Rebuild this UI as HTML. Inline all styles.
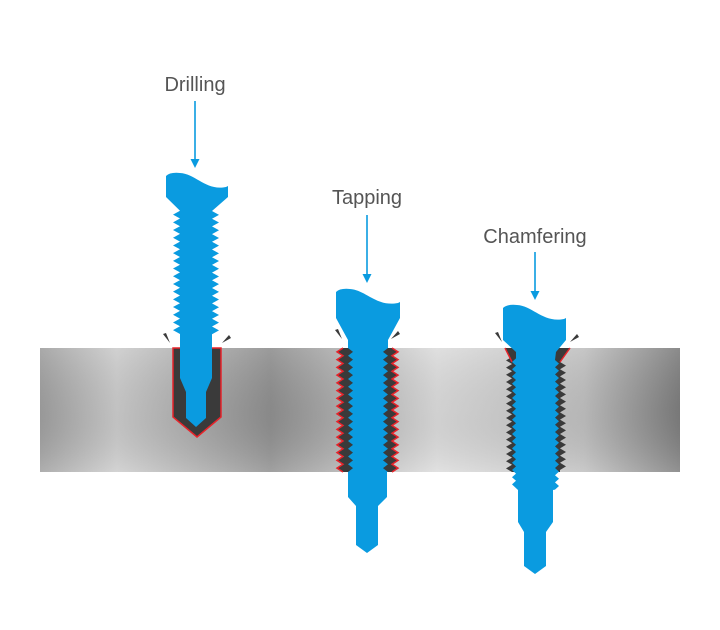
<!DOCTYPE html>
<html><head><meta charset="utf-8"><style>
html,body{margin:0;padding:0;background:#fff;width:720px;height:630px;overflow:hidden}
svg{display:block}
text{font-family:"Liberation Sans",sans-serif;font-size:20px;fill:#555}
</style></head><body>
<svg id="s" width="720" height="630" viewBox="0 0 720 630" xmlns="http://www.w3.org/2000/svg">
<defs>
<linearGradient id="pl" x1="0" x2="1" y1="0" y2="0">
<stop offset="0" stop-color="#a0a0a0"/>
<stop offset="0.12" stop-color="#cccccc"/>
<stop offset="0.36" stop-color="#909090"/>
<stop offset="0.62" stop-color="#dcdcdc"/>
<stop offset="0.85" stop-color="#c0c0c0"/>
<stop offset="1" stop-color="#7e7e7e"/>
</linearGradient>
<linearGradient id="pv" x1="0" x2="0" y1="0" y2="1">
<stop offset="0" stop-color="#fff" stop-opacity="0.1"/>
<stop offset="0.5" stop-color="#000" stop-opacity="0.05"/>
<stop offset="1" stop-color="#fff" stop-opacity="0.15"/>
</linearGradient>
</defs>
<rect x="40" y="348" width="640" height="124" fill="url(#pl)"/>
<rect x="40" y="348" width="640" height="124" fill="url(#pv)"/>
<g id="g"></g>
<text x="195" y="91" text-anchor="middle">Drilling</text>
<text x="367" y="204" text-anchor="middle">Tapping</text>
<text x="535" y="243" text-anchor="middle">Chamfering</text>
</svg>
<script>
var g=document.getElementById('g'),B='#0a9be0',D='#3a3a3a',R='#e8232a';
function P(d,f,st){var p=document.createElementNS('http://www.w3.org/2000/svg','path');p.setAttribute('d',d);p.setAttribute('fill',f||'none');if(st){p.setAttribute('stroke',st[0]);p.setAttribute('stroke-width',st[1]);}g.appendChild(p);}
function zig(x,y0,y1,dx,pitch){var s='';for(var y=y0;y<y1-0.1;y+=pitch){s+=' L'+(x+dx)+' '+(y+pitch/2)+' L'+x+' '+(y+pitch);}return s;}
function zigUp(x,y1,y0,dx,pitch){var s='';for(var y=y1;y>y0+0.1;y-=pitch){s+=' L'+(x+dx)+' '+(y-pitch/2)+' L'+x+' '+(y-pitch);}return s;}
function head(l,r,t,b){return 'M'+l+' '+(t+2)+' Q'+(l+4)+' '+(t-2)+' '+(l+14)+' '+(t-1)+' C'+(l+30)+' '+t+' '+(l+40)+' '+(t+17)+' '+(r-2)+' '+(t+13)+' L'+r+' '+(t+12)+' L'+r+' '+b+' ';}
function arrow(x,y0,y1){P('M'+x+' '+y0+' L'+x+' '+(y1-8),null,['#0a9be0',1.6]);P('M'+(x-4.5)+' '+(y1-9)+' L'+(x+4.5)+' '+(y1-9)+' L'+x+' '+y1+'Z',B);}
function chips(a,b,y){P('M'+(a-7)+' '+(y-9)+' L'+(a-4)+' '+(y-10)+' L'+(a)+' '+y+'Z',D);P('M'+(b+7)+' '+(y-8)+' L'+(b+9)+' '+(y-5)+' L'+b+' '+y+'Z',D);}
arrow(195,101,168);arrow(367,215,283);arrow(535,252,300);
// Screw 1 drilling
P('M173 348 L221 348 L221 417 L197 437 L173 417Z',D,[R,1.5]);
P(head(166,228,174,197)+'L212 211'+zig(212,211,334,7,7.7)+' L212 340 L212 378 L206 392 L206 418 L196 427 L186 418 L186 392 L180 378 L180 340 L180 334'+zigUp(180,334,211,-7,7.7)+' L166 197Z',B);
chips(170,222,343);
// Screw 2 tapping
P('M343 348'+zig(343,348,472,-6,7.75)+' L392 472'+zigUp(392,472,348,6,7.75)+'Z',D);
P('M343 348'+zig(343,348,472,-6,7.75),null,[R,1.5]);P('M392 472'+zigUp(392,472,348,6,7.75),null,[R,1.5]);
P(head(336,400,290,318)+'L388 340 L388 348'+zig(388,348,472,-5,7.75)+' L387 472 L387 497 L378 506 L378 545 L367 553 L356 545 L356 506 L348 497 L348 472'+zigUp(348,472,348,5,7.75)+' L348 340 L336 318Z',B);
chips(342,391,339);
// Screw 3 chamfering
P('M505 348 L570 348 L560 362'+zig(560,362,470,6,7.2)+' L560 472 L512 472'+zigUp(512,472,362,-6,7.2)+' L512 362Z',D);
P('M505 348 L512 362',null,[R,1.5]);P('M570 348 L560 362',null,[R,1.5]);
P(head(503,566,306,340)+'L556 352 L555 360'+zig(555,360,488,4,7.2)+' L553 490 L553 522 L546 532 L546 566 L535 574 L524 566 L524 532 L518 522 L518 490'+zigUp(516,488,360,-4,7.2)+' L516 352 L503 340Z',B);
chips(502,570,342);
</script>
</body></html>
